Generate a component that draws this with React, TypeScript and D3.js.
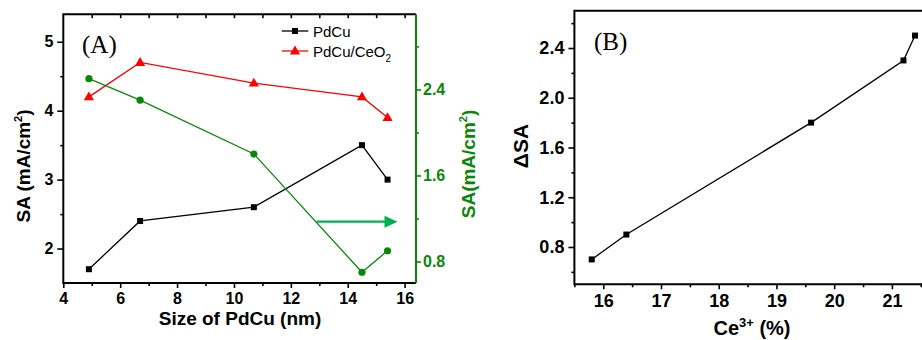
import React, { useEffect, useRef } from 'react';
import * as d3 from 'd3';

// Panel A: size of PdCu vs specific activity
const sizes = [4.9, 6.7, 10.7, 14.5, 15.4];
const saPdCu = [1.7, 2.4, 2.6, 3.5, 3.0];
const saPdCuCeO2 = [4.2, 4.7, 4.4, 4.2, 3.9];
const saGain = [2.5, 2.3, 1.8, 0.7, 0.9]; // green, right axis
const arrowFrom = [12.9, 1.17];
const arrowTo = [15.75, 1.17];

// Panel B: Ce3+ fraction vs delta SA
const ce3 = [15.8, 16.4, 19.6, 21.2, 21.4];
const deltaSA = [0.7, 0.9, 1.8, 2.3, 2.5];

const xTicksA = [4, 6, 8, 10, 12, 14, 16];
const xMinorA = [5, 7, 9, 11, 13, 15];
const yTicksA = [2, 3, 4, 5];
const yMinorA = [2.5, 3.5, 4.5];
const y2TicksA = [0.8, 1.6, 2.4];
const y2MinorA = [1.2, 2.0, 2.8];
const xTicksB = [16, 17, 18, 19, 20, 21];
const xMinorB = [15.5, 16.5, 17.5, 18.5, 19.5, 20.5, 21.5];
const yTicksB = [0.8, 1.2, 1.6, 2.0, 2.4];
const yMinorB = [0.6, 1.0, 1.4, 1.8, 2.2, 2.6];

const GREEN = '#0a870a';
const ARROW = '#00b050';
const SANS = '"Liberation Sans", Arial, sans-serif';
const SERIF = '"Liberation Serif", "Times New Roman", serif';

function addAxis(svg: any, transform: string, make: () => any, major: number[], minor: number[],
  fmt: (d: any) => string, o: { major: number; minor: number; pad: number; size: number; color: string }) {
  const gm = svg.append('g').attr('transform', transform);
  gm.call(make().tickValues(minor).tickSize(o.minor).tickSizeOuter(0).tickFormat(() => ''));
  gm.select('.domain').remove();
  const g = svg.append('g').attr('transform', transform);
  g.call(make().tickValues(major).tickSize(o.major).tickSizeOuter(0).tickPadding(o.pad).tickFormat(fmt));
  g.select('.domain').remove();
  [gm, g].forEach(a => a.selectAll('line').attr('stroke', o.color).attr('stroke-width', 1.6));
  g.selectAll('text')
    .attr('fill', o.color)
    .style('font-family', SANS)
    .style('font-weight', 'bold')
    .style('font-size', o.size + 'px');
}

export default function App() {
  const ref = useRef<SVGSVGElement>(null);

  useEffect(() => {
    const svg = d3.select(ref.current);
    svg.selectAll('*').remove();

    // ---------- Panel A ----------
    const x = d3.scaleLinear().domain([4, 16.4]).range([63.3, 416]);
    const y = d3.scaleLinear().domain([1.5, 5.4]).range([283, 14.2]);
    const y2 = d3.scaleLinear().domain([0.6, 3.1]).range([283, 14.2]);

    // top mirror ticks (inward)
    addAxis(svg, 'translate(0,14.2)', () => d3.axisTop(x), [], d3.range(5, 17), () => '',
      { major: -4, minor: -4, pad: 0, size: 0, color: '#000' });
    addAxis(svg, 'translate(0,283)', () => d3.axisBottom(x), xTicksA, xMinorA, d => String(d),
      { major: 5, minor: 3, pad: 5, size: 16, color: '#000' });
    addAxis(svg, 'translate(63.3,0)', () => d3.axisLeft(y), yTicksA, yMinorA, d => String(d),
      { major: 6, minor: 3, pad: 4, size: 16, color: '#000' });
    addAxis(svg, 'translate(416,0)', () => d3.axisRight(y2), y2TicksA, y2MinorA, d => d3.format('.1f')(d),
      { major: 5, minor: 3, pad: 2, size: 16, color: GREEN });

    // frame
    svg.append('path')
      .attr('d', `M416,14.2 H63.3 V283 H416`)
      .attr('fill', 'none').attr('stroke', '#000').attr('stroke-width', 2);
    svg.append('line')
      .attr('x1', 416).attr('x2', 416).attr('y1', 14.2).attr('y2', 283)
      .attr('stroke', GREEN).attr('stroke-width', 2);

    const lineA = (ys: number[], sc: any) =>
      d3.line<number>().x((_, i) => x(sizes[i])).y(d => sc(d))(ys);

    svg.append('path').attr('d', lineA(saPdCu, y)).attr('fill', 'none').attr('stroke', '#000').attr('stroke-width', 1.3);
    svg.append('path').attr('d', lineA(saPdCuCeO2, y)).attr('fill', 'none').attr('stroke', '#ff0000').attr('stroke-width', 1.3);
    svg.append('path').attr('d', lineA(saGain, y2)).attr('fill', 'none').attr('stroke', GREEN).attr('stroke-width', 1.3);

    const sq = d3.symbol().type(d3.symbolSquare).size(36);
    const tri = d3.symbol().type(d3.symbolTriangle).size(45);
    svg.selectAll('.mA').data(saPdCu).enter().append('path')
      .attr('d', sq).attr('transform', (d, i) => `translate(${x(sizes[i])},${y(d)})`).attr('fill', '#000');
    svg.selectAll('.mB').data(saPdCuCeO2).enter().append('path')
      .attr('d', tri).attr('transform', (d, i) => `translate(${x(sizes[i])},${y(d) + 0.5})`).attr('fill', '#ff0000');
    svg.selectAll('.mC').data(saGain).enter().append('circle')
      .attr('cx', (_, i) => x(sizes[i])).attr('cy', d => y2(d)).attr('r', 3.6).attr('fill', GREEN);

    // arrow pointing to the right axis
    const ax0 = x(arrowFrom[0]), ax1 = x(arrowTo[0]), ay = y2(arrowFrom[1]);
    svg.append('line').attr('x1', ax0).attr('x2', ax1 - 10).attr('y1', ay).attr('y2', ay)
      .attr('stroke', ARROW).attr('stroke-width', 2.2);
    svg.append('path').attr('d', `M${ax1 - 13},${ay - 6} L${ax1},${ay} L${ax1 - 13},${ay + 6} Z`).attr('fill', ARROW);

    // legend
    const legend = [
      { label: 'PdCu', color: '#000', sym: sq, y: 31 },
      { label: 'PdCu/CeO', color: '#ff0000', sym: tri, y: 51 },
    ];
    legend.forEach((l, i) => {
      svg.append('line').attr('x1', 281.7).attr('x2', 308.3).attr('y1', l.y).attr('y2', l.y)
        .attr('stroke', l.color).attr('stroke-width', 1.3);
      svg.append('path').attr('d', l.sym).attr('transform', `translate(295,${l.y + (i ? 0.5 : 0)})`).attr('fill', l.color);
      const t = svg.append('text').attr('x', 313).attr('y', l.y + 5.5)
        .style('font-family', SANS).style('font-size', '15px').text(l.label);
      if (i === 1) t.append('tspan').attr('dy', 5).style('font-size', '10px').text('2');
    });

    svg.append('text').attr('x', 82).attr('y', 53).style('font-family', SERIF).style('font-size', '25px').text('(A)');

    // axis titles A
    svg.append('text').attr('x', 240).attr('y', 325).attr('text-anchor', 'middle')
      .style('font-family', SANS).style('font-weight', 'bold').style('font-size', '19px').text('Size of PdCu (nm)');

    const yTitle = (tx: number, ty: number, pre: string, color: string) => {
      const t = svg.append('text').attr('transform', `translate(${tx},${ty}) rotate(-90)`)
        .attr('text-anchor', 'middle').attr('fill', color)
        .style('font-family', SANS).style('font-weight', 'bold').style('font-size', '19px');
      t.append('tspan').text(pre);
      t.append('tspan').attr('dy', -8).style('font-size', '11px').text('2');
      t.append('tspan').attr('dy', 8).text(')');
    };
    yTitle(30, 166, 'SA (mA/cm', '#000');
    yTitle(475, 164, 'SA(mA/cm', GREEN);

    // ---------- Panel B ----------
    const xb = d3.scaleLinear().domain([15.5, 21.6]).range([574.4, 574.4 + 6.1 * 57.73]);
    const yb = d3.scaleLinear().domain([0.5, 2.7]).range([284.3, 10.7]);

    addAxis(svg, 'translate(0,284.3)', () => d3.axisBottom(xb), xTicksB, xMinorB, d => String(d),
      { major: 5, minor: 3, pad: 5, size: 18, color: '#000' });
    addAxis(svg, 'translate(574.4,0)', () => d3.axisLeft(yb), yTicksB, yMinorB, d => d3.format('.1f')(d),
      { major: 6, minor: 3, pad: 4, size: 18, color: '#000' });

    svg.append('path')
      .attr('d', `M930,10.7 H574.4 V284.3 H930`)
      .attr('fill', 'none').attr('stroke', '#000').attr('stroke-width', 2);

    svg.append('path')
      .attr('d', d3.line<number>().x((_, i) => xb(ce3[i])).y(d => yb(d))(deltaSA))
      .attr('fill', 'none').attr('stroke', '#000').attr('stroke-width', 1.3);
    svg.selectAll('.mD').data(deltaSA).enter().append('path')
      .attr('d', sq).attr('transform', (d, i) => `translate(${xb(ce3[i])},${yb(d)})`).attr('fill', '#000');

    svg.append('text').attr('x', 594).attr('y', 50).style('font-family', SERIF).style('font-size', '25px').text('(B)');

    svg.append('text').attr('transform', 'translate(528,146) rotate(-90)').attr('text-anchor', 'middle')
      .style('font-family', SANS).style('font-weight', 'bold').style('font-size', '21px').text('ΔSA');

    const xt = svg.append('text').attr('x', 752).attr('y', 335).attr('text-anchor', 'middle')
      .style('font-family', SANS).style('font-weight', 'bold').style('font-size', '20px');
    xt.append('tspan').text('Ce');
    xt.append('tspan').attr('dy', -8).style('font-size', '13px').text('3+');
    xt.append('tspan').attr('dy', 8).text(' (%)');
  }, []);

  return (
    <svg ref={ref} width={922} height={340} style={{ position: 'absolute', left: 0, top: 0, background: '#fff' }} />
  );
}
